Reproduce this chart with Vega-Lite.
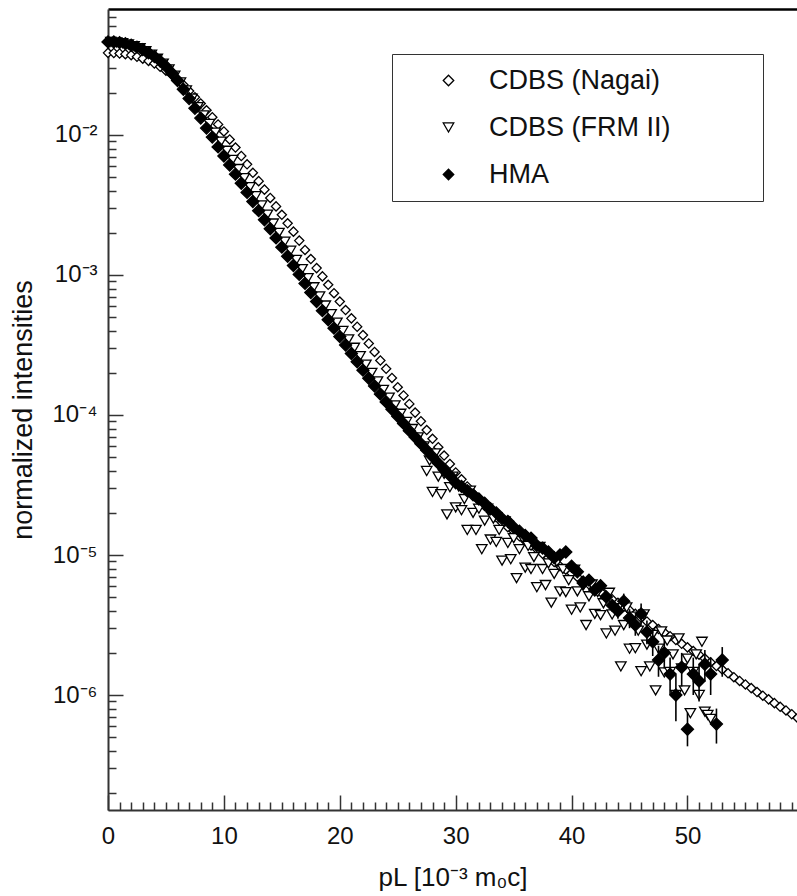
{
  "$schema": "https://vega.github.io/schema/vega-lite/v6.json",
  "width": 689,
  "height": 801,
  "autosize": {"type": "none"},
  "padding": {"left": 108, "top": 9, "right": 0, "bottom": 86},
  "config": {"view": {"stroke": null}, "font": "Liberation Sans"},
  "datasets": {
    "nagai": [
      {"x":0,"y":3.86e-2},{"x":0.5,"y":3.85e-2},{"x":1,"y":3.82e-2},{"x":1.5,"y":3.78e-2},{"x":2,"y":3.72e-2},{"x":2.5,"y":3.62e-2},{"x":3,"y":3.51e-2},{"x":3.5,"y":3.38e-2},{"x":4,"y":3.24e-2},{"x":4.5,"y":3.07e-2},
      {"x":5,"y":2.88e-2},{"x":5.5,"y":2.69e-2},{"x":6,"y":2.49e-2},{"x":6.5,"y":2.28e-2},{"x":7,"y":2.06e-2},{"x":7.5,"y":1.86e-2},{"x":8,"y":1.68e-2},{"x":8.5,"y":1.50e-2},{"x":9,"y":1.34e-2},{"x":9.5,"y":1.19e-2},
      {"x":10,"y":1.06e-2},{"x":10.5,"y":9.29e-3},{"x":11,"y":8.13e-3},{"x":11.5,"y":7.08e-3},{"x":12,"y":6.17e-3},{"x":12.5,"y":5.37e-3},{"x":13,"y":4.68e-3},{"x":13.5,"y":4.07e-3},{"x":14,"y":3.55e-3},{"x":14.5,"y":3.09e-3},
      {"x":15,"y":2.69e-3},{"x":15.5,"y":2.34e-3},{"x":16,"y":2.04e-3},{"x":16.5,"y":1.76e-3},{"x":17,"y":1.51e-3},{"x":17.5,"y":1.30e-3},{"x":18,"y":1.12e-3},{"x":18.5,"y":9.77e-4},{"x":19,"y":8.51e-4},{"x":19.5,"y":7.41e-4},
      {"x":20,"y":6.46e-4},{"x":20.5,"y":5.62e-4},{"x":21,"y":4.90e-4},{"x":21.5,"y":4.27e-4},{"x":22,"y":3.72e-4},{"x":22.5,"y":3.24e-4},{"x":23,"y":2.82e-4},{"x":23.5,"y":2.45e-4},{"x":24,"y":2.14e-4},{"x":24.5,"y":1.84e-4},
      {"x":25,"y":1.58e-4},{"x":25.5,"y":1.38e-4},{"x":26,"y":1.20e-4},{"x":26.5,"y":1.04e-4},{"x":27,"y":9.02e-5},{"x":27.5,"y":7.81e-5},{"x":28,"y":6.76e-5},{"x":28.5,"y":5.89e-5},{"x":29,"y":5.13e-5},{"x":29.5,"y":4.47e-5},
      {"x":30,"y":3.89e-5},{"x":30.5,"y":3.47e-5},{"x":31,"y":3.09e-5},{"x":31.5,"y":2.75e-5},{"x":32,"y":2.45e-5},{"x":32.5,"y":2.24e-5},{"x":33,"y":2.04e-5},{"x":33.5,"y":1.86e-5},{"x":34,"y":1.70e-5},{"x":34.5,"y":1.58e-5},
      {"x":35,"y":1.48e-5},{"x":35.5,"y":1.36e-5},{"x":36,"y":1.26e-5},{"x":36.5,"y":1.17e-5},{"x":37,"y":1.10e-5},{"x":37.5,"y":1.02e-5},{"x":38,"y":9.55e-6},{"x":38.5,"y":8.91e-6},{"x":39,"y":8.32e-6},{"x":39.5,"y":7.85e-6},
      {"x":40,"y":7.41e-6},{"x":40.5,"y":6.97e-6},{"x":41,"y":6.56e-6},{"x":41.5,"y":6.17e-6},{"x":42,"y":5.81e-6},{"x":42.5,"y":5.46e-6},{"x":43,"y":5.14e-6},{"x":43.5,"y":4.83e-6},{"x":44,"y":4.55e-6},{"x":44.5,"y":4.28e-6},
      {"x":45,"y":4.03e-6},{"x":45.5,"y":3.80e-6},{"x":46,"y":3.56e-6},{"x":46.5,"y":3.35e-6},{"x":47,"y":3.16e-6},{"x":47.5,"y":2.96e-6},{"x":48,"y":2.79e-6},{"x":48.5,"y":2.63e-6},{"x":49,"y":2.47e-6},{"x":49.5,"y":2.32e-6},
      {"x":50,"y":2.19e-6},{"x":50.5,"y":2.06e-6},{"x":51,"y":1.94e-6},{"x":51.5,"y":1.82e-6},{"x":52,"y":1.71e-6},{"x":52.5,"y":1.61e-6},{"x":53,"y":1.52e-6},{"x":53.5,"y":1.43e-6},{"x":54,"y":1.34e-6},{"x":54.5,"y":1.26e-6},
      {"x":55,"y":1.19e-6},{"x":55.5,"y":1.12e-6},{"x":56,"y":1.05e-6},{"x":56.5,"y":9.89e-7},{"x":57,"y":9.31e-7},{"x":57.5,"y":8.75e-7},{"x":58,"y":8.24e-7},{"x":58.5,"y":7.76e-7},{"x":59,"y":7.29e-7},{"x":59.5,"y":6.86e-7},{"x":60,"y":6.46e-7}
    ],
    "frm": [
      {"x":0.25,"y":4.62e-2},{"x":0.75,"y":4.59e-2},{"x":1.25,"y":4.53e-2},{"x":1.75,"y":4.43e-2},{"x":2.25,"y":4.31e-2},{"x":2.75,"y":4.16e-2},{"x":3.25,"y":3.97e-2},{"x":3.75,"y":3.75e-2},{"x":4.25,"y":3.50e-2},{"x":4.75,"y":3.23e-2},
      {"x":5.25,"y":2.94e-2},{"x":5.75,"y":2.65e-2},{"x":6.25,"y":2.37e-2},{"x":6.75,"y":2.08e-2},{"x":7.25,"y":1.82e-2},{"x":7.75,"y":1.58e-2},{"x":8.25,"y":1.38e-2},{"x":8.75,"y":1.20e-2},{"x":9.25,"y":1.04e-2},{"x":9.75,"y":8.95e-3},
      {"x":10.25,"y":7.71e-3},{"x":10.75,"y":6.64e-3},{"x":11.25,"y":5.71e-3},{"x":11.75,"y":4.92e-3},{"x":12.25,"y":4.24e-3},{"x":12.75,"y":3.65e-3},{"x":13.25,"y":3.14e-3},{"x":13.75,"y":2.70e-3},{"x":14.25,"y":2.33e-3},{"x":14.75,"y":2.00e-3},
      {"x":15.25,"y":1.73e-3},{"x":15.75,"y":1.49e-3},{"x":16.25,"y":1.28e-3},{"x":16.75,"y":1.10e-3},{"x":17.25,"y":9.48e-4},{"x":17.75,"y":8.17e-4},{"x":18.25,"y":7.03e-4},{"x":18.75,"y":6.05e-4},{"x":19.25,"y":5.25e-4},{"x":19.75,"y":4.57e-4},
      {"x":20.25,"y":3.98e-4},{"x":20.75,"y":3.47e-4},{"x":21.25,"y":3.02e-4},{"x":21.75,"y":2.63e-4},{"x":22.25,"y":2.29e-4},{"x":22.75,"y":2.00e-4},{"x":23.25,"y":1.74e-4},{"x":23.75,"y":1.51e-4},{"x":24.25,"y":1.33e-4},{"x":24.75,"y":1.17e-4},
      {"x":25.25,"y":1.02e-4},{"x":25.75,"y":8.91e-5},{"x":26.25,"y":7.94e-5},{"x":26.75,"y":6.92e-5},
      {"x":27.25,"y":5.96e-5},{"x":27.5,"y":3.98e-5},{"x":27.75,"y":4.73e-5},{"x":28,"y":2.82e-5},{"x":28.25,"y":5.31e-5},{"x":28.5,"y":3.63e-5},{"x":28.75,"y":2.72e-5},{"x":29,"y":3.80e-5},{"x":29.25,"y":1.95e-5},{"x":29.5,"y":3.05e-5},
      {"x":29.75,"y":3.63e-5},{"x":30,"y":2.19e-5},{"x":30.25,"y":3.09e-5},{"x":30.5,"y":2.09e-5},{"x":30.75,"y":2.51e-5},{"x":31,"y":1.51e-5},{"x":31.25,"y":2.88e-5},{"x":31.5,"y":2.00e-5},{"x":31.75,"y":1.51e-5},{"x":32,"y":2.14e-5},
      {"x":32.25,"y":1.10e-5},{"x":32.5,"y":1.76e-5},{"x":32.75,"y":2.14e-5},{"x":33,"y":1.29e-5},{"x":33.25,"y":1.82e-5},{"x":33.5,"y":1.24e-5},{"x":33.75,"y":1.51e-5},{"x":34,"y":9.12e-6},{"x":34.25,"y":1.74e-5},{"x":34.5,"y":1.22e-5},
      {"x":34.75,"y":9.33e-6},{"x":35,"y":1.32e-5},{"x":35.25,"y":6.84e-6},{"x":35.5,"y":1.10e-5},{"x":35.75,"y":1.33e-5},{"x":36,"y":8.13e-6},{"x":36.25,"y":1.16e-5},{"x":36.5,"y":7.94e-6},{"x":36.75,"y":9.66e-6},{"x":37,"y":5.89e-6},
      {"x":37.25,"y":1.14e-5},{"x":37.5,"y":7.94e-6},{"x":37.75,"y":6.10e-6},{"x":38,"y":8.71e-6},{"x":38.25,"y":4.57e-6},{"x":38.5,"y":7.33e-6},{"x":38.75,"y":8.91e-6},{"x":39,"y":5.50e-6},{"x":39.25,"y":7.94e-6},{"x":39.5,"y":5.43e-6},
      {"x":39.75,"y":6.61e-6},{"x":40,"y":4.07e-6},{"x":40.25,"y":7.85e-6},{"x":40.5,"y":5.50e-6},{"x":40.75,"y":4.22e-6},{"x":41,"y":6.03e-6},{"x":41.25,"y":3.16e-6},{"x":41.5,"y":5.07e-6},{"x":41.75,"y":6.17e-6},{"x":42,"y":3.80e-6},
      {"x":42.25,"y":5.43e-6},{"x":42.5,"y":3.72e-6},{"x":42.75,"y":4.52e-6},{"x":43,"y":2.75e-6},{"x":43.25,"y":5.37e-6},{"x":43.5,"y":3.76e-6},{"x":43.75,"y":2.88e-6},{"x":44,"y":4.17e-6},{"x":44.25,"y":1.60e-6},{"x":44.5,"y":3.16e-6},
      {"x":44.75,"y":4.22e-6},{"x":45,"y":2.14e-6},{"x":45.25,"y":3.63e-6},{"x":45.5,"y":2.16e-6},{"x":45.75,"y":2.88e-6},{"x":46,"y":1.48e-6},{"x":46.25,"y":3.76e-6},{"x":46.5,"y":2.29e-6},{"x":46.75,"y":1.60e-6},{"x":47,"y":2.69e-6},
      {"x":47.25,"y":1.08e-6},{"x":47.5,"y":2.14e-6},{"x":47.75,"y":2.85e-6},{"x":48,"y":1.45e-6},{"x":48.25,"y":2.45e-6},{"x":48.5,"y":1.46e-6},{"x":48.75,"y":1.95e-6},{"x":49,"y":1.00e-6},{"x":49.25,"y":2.54e-6},{"x":49.5,"y":1.55e-6},
      {"x":49.75,"y":1.08e-6},{"x":50,"y":1.82e-6},{"x":50.25,"y":7.41e-7},{"x":50.5,"y":1.46e-6},{"x":50.75,"y":1.95e-6},{"x":51,"y":1.00e-6},{"x":51.25,"y":2.40e-6},{"x":51.5,"y":7.6e-7},{"x":51.75,"y":7.2e-7},{"x":52,"y":6.76e-7}
    ],
    "hma": [
      {"x":0,"y":4.62e-2},{"x":0.5,"y":4.61e-2},{"x":1,"y":4.57e-2},{"x":1.5,"y":4.49e-2},{"x":2,"y":4.37e-2},{"x":2.5,"y":4.24e-2},{"x":3,"y":4.07e-2},{"x":3.5,"y":3.86e-2},{"x":4,"y":3.63e-2},{"x":4.5,"y":3.37e-2},
      {"x":5,"y":3.09e-2},{"x":5.5,"y":2.77e-2},{"x":6,"y":2.45e-2},{"x":6.5,"y":2.12e-2},{"x":7,"y":1.82e-2},{"x":7.5,"y":1.55e-2},{"x":8,"y":1.32e-2},{"x":8.5,"y":1.12e-2},{"x":9,"y":9.66e-3},{"x":9.5,"y":8.22e-3},
      {"x":10,"y":7.08e-3},{"x":10.5,"y":6.10e-3},{"x":11,"y":5.25e-3},{"x":11.5,"y":4.52e-3},{"x":12,"y":3.89e-3},{"x":12.5,"y":3.35e-3},{"x":13,"y":2.88e-3},{"x":13.5,"y":2.48e-3},{"x":14,"y":2.14e-3},{"x":14.5,"y":1.84e-3},
      {"x":15,"y":1.58e-3},{"x":15.5,"y":1.36e-3},{"x":16,"y":1.17e-3},{"x":16.5,"y":1.01e-3},{"x":17,"y":8.71e-4},{"x":17.5,"y":7.50e-4},{"x":18,"y":6.46e-4},{"x":18.5,"y":5.56e-4},{"x":19,"y":4.79e-4},{"x":19.5,"y":4.17e-4},
      {"x":20,"y":3.63e-4},{"x":20.5,"y":3.16e-4},{"x":21,"y":2.75e-4},{"x":21.5,"y":2.40e-4},{"x":22,"y":2.09e-4},{"x":22.5,"y":1.83e-4},{"x":23,"y":1.61e-4},{"x":23.5,"y":1.41e-4},{"x":24,"y":1.24e-4},{"x":24.5,"y":1.10e-4},
      {"x":25,"y":9.79e-5},{"x":25.5,"y":8.71e-5},{"x":26,"y":7.73e-5},{"x":26.5,"y":6.95e-5},{"x":27,"y":6.24e-5},{"x":27.5,"y":5.61e-5},{"x":28,"y":5.04e-5},{"x":28.5,"y":4.53e-5},{"x":29,"y":4.06e-5},{"x":29.5,"y":3.70e-5},
      {"x":30,"y":3.28e-5},{"x":30.5,"y":3.09e-5},{"x":31,"y":2.88e-5},{"x":31.5,"y":2.69e-5},{"x":32,"y":2.51e-5},{"x":32.5,"y":2.34e-5},{"x":33,"y":2.14e-5},{"x":33.5,"y":2.00e-5},{"x":34,"y":1.82e-5},{"x":34.5,"y":1.74e-5},
      {"x":35,"y":1.58e-5},{"x":35.5,"y":1.48e-5},{"x":36,"y":1.38e-5},{"x":36.5,"y":1.32e-5},{"x":37,"y":1.17e-5},{"x":37.5,"y":1.12e-5},{"x":38,"y":1.05e-5},{"x":38.5,"y":9.55e-6},{"x":39,"y":1.00e-5},{"x":39.5,"y":1.05e-5},
      {"x":40,"y":8.32e-6},{"x":40.5,"y":7.59e-6},{"x":41,"y":6.31e-6},{"x":41.5,"y":6.61e-6},{"x":42,"y":5.62e-6},{"x":42.5,"y":6.03e-6},{"x":43,"y":5.01e-6},{"x":43.5,"y":4.37e-6},{"x":44,"y":3.98e-6},{"x":44.5,"y":4.68e-6},
      {"x":45,"y":3.55e-6},{"x":45.5,"y":3.16e-6},{"x":46,"y":3.80e-6},{"x":46.5,"y":2.82e-6},{"x":47,"y":2.40e-6},{"x":47.5,"y":1.78e-6},{"x":48,"y":2.00e-6},{"x":48.5,"y":1.41e-6},{"x":49,"y":1.00e-6},{"x":49.5,"y":1.58e-6},
      {"x":50,"y":5.7e-7},{"x":50.5,"y":1.41e-6},{"x":51,"y":1.26e-6},{"x":51.5,"y":1.66e-6},{"x":52,"y":1.41e-6},{"x":52.5,"y":6.2e-7},{"x":53,"y":1.78e-6}
    ],
    "hmaerr": [
      {"x":44,"lo":3.5e-6,"hi":4.5e-6},{"x":44.5,"lo":4.1e-6,"hi":5.3e-6},{"x":45,"lo":3.0e-6,"hi":4.1e-6},{"x":45.5,"lo":2.65e-6,"hi":3.7e-6},{"x":46,"lo":3.2e-6,"hi":4.5e-6},
      {"x":46.5,"lo":2.3e-6,"hi":3.4e-6},{"x":47,"lo":1.9e-6,"hi":3.0e-6},{"x":47.5,"lo":1.35e-6,"hi":2.25e-6},{"x":48,"lo":1.55e-6,"hi":2.5e-6},{"x":48.5,"lo":1.0e-6,"hi":1.85e-6},
      {"x":49,"lo":6.5e-7,"hi":1.4e-6},{"x":49.5,"lo":1.15e-6,"hi":2.0e-6},{"x":50,"lo":4.3e-7,"hi":7.5e-7},{"x":50.5,"lo":1.0e-6,"hi":1.85e-6},{"x":51,"lo":9.0e-7,"hi":1.65e-6},
      {"x":51.5,"lo":1.25e-6,"hi":2.1e-6},{"x":52,"lo":1.0e-6,"hi":1.85e-6},{"x":52.5,"lo":4.5e-7,"hi":8.0e-7},{"x":53,"lo":1.35e-6,"hi":2.2e-6}
    ]
  },
  "resolve": {"axis": {"x": "independent"}},
  "layer": [
    {
      "data": {"name": "nagai"},
      "mark": {"type": "point", "strokeWidth": 1.3, "size": 85, "opacity": 1},
      "encoding": {
        "x": {"field": "x", "type": "quantitative",
          "scale": {"domain": [0, 59.45], "nice": false, "zero": false},
          "axis": {"orient": "bottom", "values": [0,1,2,3,4,5,6,7,8,9,10,11,12,13,14,15,16,17,18,19,20,21,22,23,24,25,26,27,28,29,30,31,32,33,34,35,36,37,38,39,40,41,42,43,44,45,46,47,48,49,50,51,52,53,54,55,56,57,58,59],
            "title": "pL [10⁻³ m₀c]", "titleFont": "Liberation Sans", "titleFontSize": 26, "titleFontWeight": "normal", "titleColor": "#111", "titlePadding": 9,
            "labelExpr": "datum.value % 10 === 0 ? datum.label : ''",
            "labelFont": "Liberation Sans", "labelFontSize": 24, "labelColor": "#111", "labelPadding": 29,
            "labelFlush": false, "labelOverlap": false, "labelBound": false,
            "tickSize": {"condition": {"test": "datum.value % 10 === 0", "value": -15}, "value": -8},
            "tickColor": "#333", "tickWidth": 1.5, "domainColor": "#333", "domainWidth": 2, "grid": false}},
        "y": {"field": "y", "type": "quantitative",
          "scale": {"type": "log", "domain": [1.509e-7, 0.0794], "nice": false},
          "axis": {"orient": "left",
            "values": [2e-7,3e-7,4e-7,5e-7,6e-7,7e-7,8e-7,9e-7,1e-6,2e-6,3e-6,4e-6,5e-6,6e-6,7e-6,8e-6,9e-6,1e-5,2e-5,3e-5,4e-5,5e-5,6e-5,7e-5,8e-5,9e-5,1e-4,2e-4,3e-4,4e-4,5e-4,6e-4,7e-4,8e-4,9e-4,1e-3,2e-3,3e-3,4e-3,5e-3,6e-3,7e-3,8e-3,9e-3,1e-2,2e-2,3e-2,4e-2,5e-2,6e-2,7e-2],
            "title": "normalized intensities", "titleFont": "Liberation Sans", "titleFontSize": 27, "titleFontWeight": "normal", "titleColor": "#111", "titlePadding": 14,
            "labelExpr": "abs(log(datum.value)/LN10 - round(log(datum.value)/LN10)) < 0.000001 ? '10⁻' + ['⁰','¹','²','³','⁴','⁵','⁶','⁷','⁸','⁹'][-round(log(datum.value)/LN10)] : ''",
            "labelFont": "Liberation Sans", "labelFontSize": 24, "labelColor": "#111", "labelPadding": 26,
            "labelFlush": false, "labelOverlap": false, "labelBound": false,
            "tickSize": {"condition": {"test": "abs(log(datum.value)/LN10 - round(log(datum.value)/LN10)) < 0.000001", "value": -15}, "value": -8},
            "tickColor": "#333", "tickWidth": 1.5, "domainColor": "#333", "domainWidth": 2, "grid": false}},
        "shape": {"datum": "CDBS (Nagai)",
          "scale": {"domain": ["CDBS (Nagai)", "CDBS (FRM II)", "HMA"], "range": ["diamond", "triangle-down", "diamond"]},
          "legend": {"orient": "none", "legendX": 284, "legendY": 45, "title": " ", "titleOrient": "right", "titlePadding": 80, "titleFontSize": 10, "strokeColor": "#333", "padding": 13,
            "symbolOffset": 30, "labelOffset": 27, "rowPadding": 19, "labelFont": "Liberation Sans", "labelFontSize": 27, "labelColor": "#111", "labelLimit": 400,
            "symbolSize": 110, "symbolStrokeWidth": 1.3}},
        "fill": {"datum": "CDBS (Nagai)",
          "scale": {"domain": ["CDBS (Nagai)", "CDBS (FRM II)", "HMA"], "range": ["white", "white", "black"]},
          "legend": {"orient": "none", "legendX": 284, "legendY": 45, "title": " ", "titleOrient": "right", "titlePadding": 80, "titleFontSize": 10, "strokeColor": "#333", "padding": 13,
            "symbolOffset": 30, "labelOffset": 27, "rowPadding": 19, "labelFont": "Liberation Sans", "labelFontSize": 27, "labelColor": "#111", "labelLimit": 400,
            "symbolSize": 110, "symbolStrokeWidth": 1.3}},
        "stroke": {"datum": "CDBS (Nagai)",
          "scale": {"domain": ["CDBS (Nagai)", "CDBS (FRM II)", "HMA"], "range": ["black", "black", "black"]},
          "legend": {"orient": "none", "legendX": 284, "legendY": 45, "title": " ", "titleOrient": "right", "titlePadding": 80, "titleFontSize": 10, "strokeColor": "#333", "padding": 13,
            "symbolOffset": 30, "labelOffset": 27, "rowPadding": 19, "labelFont": "Liberation Sans", "labelFontSize": 27, "labelColor": "#111", "labelLimit": 400,
            "symbolSize": 110, "symbolStrokeWidth": 1.3}}
      }
    },
    {
      "data": {"name": "frm"},
      "mark": {"type": "point", "strokeWidth": 1.3, "size": 110, "opacity": 1},
      "encoding": {
        "x": {"field": "x", "type": "quantitative",
          "scale": {"domain": [0, 59.45], "nice": false, "zero": false},
          "axis": {"orient": "top", "labels": false, "ticks": false, "domain": true, "domainColor": "black", "domainWidth": 2.5, "title": null, "grid": false}},
        "y": {"field": "y", "type": "quantitative", "scale": {"type": "log", "domain": [1.509e-7, 0.0794], "nice": false}},
        "shape": {"datum": "CDBS (FRM II)"},
        "fill": {"datum": "CDBS (FRM II)"},
        "stroke": {"datum": "CDBS (FRM II)"}
      }
    },
    {
      "data": {"name": "hmaerr"},
      "mark": {"type": "rule", "color": "black", "strokeWidth": 1.6},
      "encoding": {
        "x": {"field": "x", "type": "quantitative", "scale": {"domain": [0, 59.45], "nice": false, "zero": false}, "axis": null},
        "y": {"field": "lo", "type": "quantitative", "scale": {"type": "log", "domain": [1.509e-7, 0.0794], "nice": false}},
        "y2": {"field": "hi"}
      }
    },
    {
      "data": {"name": "hma"},
      "mark": {"type": "point", "strokeWidth": 1.3, "size": 145, "opacity": 1},
      "encoding": {
        "x": {"field": "x", "type": "quantitative", "scale": {"domain": [0, 59.45], "nice": false, "zero": false}, "axis": null},
        "y": {"field": "y", "type": "quantitative", "scale": {"type": "log", "domain": [1.509e-7, 0.0794], "nice": false}},
        "shape": {"datum": "HMA"},
        "fill": {"datum": "HMA"},
        "stroke": {"datum": "HMA"}
      }
    }
  ]
}
